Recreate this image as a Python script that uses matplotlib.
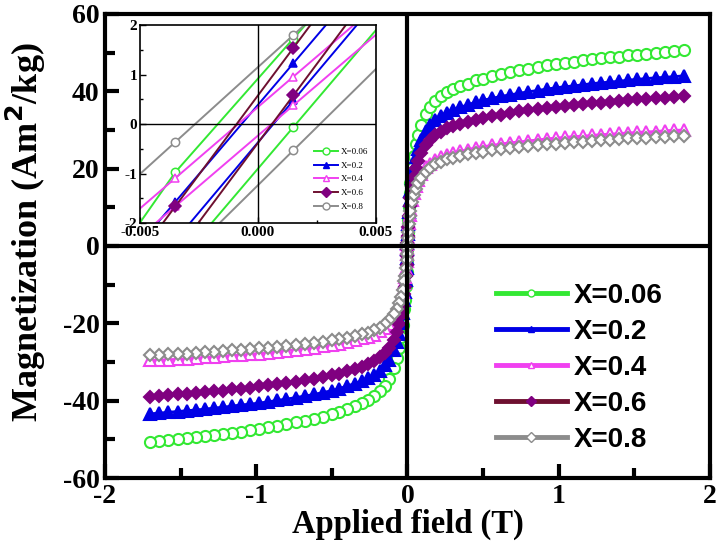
import matplotlib
matplotlib.use("Agg")
import matplotlib.pyplot as plt
from matplotlib.lines import Line2D
from matplotlib.ticker import MultipleLocator

plt.rcParams["axes.unicode_minus"] = False

# ---- data ----
labels = ["X=0.06", "X=0.2", "X=0.4", "X=0.6", "X=0.8"]

# positive field half (T)
field_pos = [0, 0.003, 0.006, 0.01, 0.015, 0.02, 0.03, 0.04, 0.055, 0.07, 0.09,
             0.12, 0.15, 0.18, 0.22, 0.26, 0.3, 0.35, 0.4, 0.45, 0.5, 0.56, 0.62,
             0.68, 0.74, 0.8, 0.86, 0.92, 0.98, 1.04, 1.1, 1.16, 1.22, 1.28, 1.34,
             1.4, 1.46, 1.52, 1.58, 1.64, 1.7, 1.76, 1.83]
# negative field half (T)
field_neg = [0, -0.003, -0.006, -0.01, -0.015, -0.02, -0.03, -0.04, -0.055, -0.07,
             -0.09, -0.12, -0.15, -0.18, -0.22, -0.26, -0.3, -0.35, -0.4, -0.45,
             -0.5, -0.56, -0.62, -0.68, -0.74, -0.8, -0.86, -0.92, -0.98, -1.04,
             -1.1, -1.16, -1.22, -1.28, -1.34, -1.4, -1.46, -1.52, -1.58, -1.64, -1.7]

m_pos_006 = [1.0, 3.5, 6.6, 10.1, 13.7, 16.2, 20.2, 23.3, 26.3, 28.8, 31.4, 34.2, 35.9,
             37.4, 38.7, 39.7, 40.5, 41.3, 42.0, 42.8, 43.3, 43.9, 44.5, 45.0, 45.4,
             45.8, 46.2, 46.7, 47.0, 47.4, 47.7, 48.0, 48.3, 48.5, 48.8, 49.0, 49.3,
             49.5, 49.7, 50.0, 50.2, 50.4, 50.6]
m_pos_02 = [0.9, 3.1, 5.7, 8.8, 11.9, 14.1, 17.6, 20.2, 22.9, 25.1, 27.3, 29.7, 31.2,
            32.6, 33.7, 34.5, 35.2, 35.9, 36.5, 37.2, 37.7, 38.2, 38.7, 39.1, 39.5,
            39.9, 40.2, 40.6, 40.9, 41.2, 41.4, 41.7, 42.0, 42.2, 42.4, 42.6, 42.9,
            43.1, 43.3, 43.5, 43.6, 43.8, 44.0]
m_pos_04 = [0.6, 2.1, 3.9, 6.0, 8.1, 9.6, 12.0, 13.8, 15.6, 17.1, 18.6, 20.3, 21.3,
            22.2, 23.0, 23.6, 24.0, 24.5, 24.9, 25.4, 25.7, 26.0, 26.4, 26.7, 26.9,
            27.2, 27.4, 27.7, 27.9, 28.1, 28.3, 28.4, 28.6, 28.8, 28.9, 29.1, 29.2,
            29.4, 29.5, 29.6, 29.8, 29.9, 30.0]
m_pos_06 = [0.8, 2.7, 5.0, 7.7, 10.4, 12.4, 15.5, 17.8, 20.1, 22.1, 24.0, 26.1, 27.5,
            28.6, 29.6, 30.4, 31.0, 31.6, 32.1, 32.7, 33.1, 33.6, 34.0, 34.4, 34.8,
            35.1, 35.4, 35.7, 36.0, 36.2, 36.5, 36.7, 36.9, 37.1, 37.3, 37.5, 37.7,
            37.9, 38.0, 38.2, 38.4, 38.5, 38.7]
m_pos_08 = [0.6, 2.0, 3.7, 5.7, 7.7, 9.1, 11.4, 13.1, 14.8, 16.2, 17.7, 19.2, 20.2,
            21.1, 21.8, 22.4, 22.8, 23.3, 23.7, 24.1, 24.4, 24.7, 25.1, 25.3, 25.6,
            25.8, 26.0, 26.3, 26.5, 26.7, 26.8, 27.0, 27.2, 27.3, 27.5, 27.6, 27.8,
            27.9, 28.0, 28.2, 28.3, 28.4, 28.5]

m_neg_006 = [-1.1, -3.6, -6.8, -10.3, -13.9, -16.4, -20.5, -23.6, -26.5, -29.0, -31.6,
             -34.4, -36.1, -37.6, -38.9, -39.9, -40.7, -41.5, -42.2, -43.0, -43.5,
             -44.1, -44.7, -45.2, -45.6, -46.0, -46.5, -46.9, -47.3, -47.7, -48.0,
             -48.3, -48.6, -48.9, -49.2, -49.4, -49.7, -49.9, -50.1, -50.4, -50.6]
m_neg_02 = [-0.9, -3.0, -5.6, -8.7, -11.8, -14.0, -17.4, -20.0, -22.7, -24.9, -27.0,
            -29.4, -30.9, -32.3, -33.4, -34.2, -34.9, -35.6, -36.2, -36.9, -37.4,
            -37.9, -38.4, -38.8, -39.2, -39.6, -39.9, -40.3, -40.6, -40.9, -41.1,
            -41.4, -41.7, -41.9, -42.2, -42.4, -42.6, -42.8, -43.0, -43.2, -43.4]
m_neg_04 = [-0.6, -2.1, -3.9, -6.0, -8.0, -9.5, -11.9, -13.7, -15.5, -17.0, -18.5,
            -20.2, -21.2, -22.1, -22.9, -23.5, -23.9, -24.4, -24.8, -25.3, -25.6,
            -25.9, -26.3, -26.6, -26.8, -27.1, -27.3, -27.6, -27.8, -28.0, -28.2,
            -28.3, -28.5, -28.7, -28.8, -29.0, -29.1, -29.3, -29.4, -29.5, -29.6]
m_neg_06 = [-0.8, -2.7, -5.0, -7.8, -10.5, -12.5, -15.6, -17.9, -20.3, -22.3, -24.2,
            -26.3, -27.7, -28.8, -29.8, -30.6, -31.2, -31.8, -32.4, -33.0, -33.4,
            -33.9, -34.3, -34.7, -35.1, -35.4, -35.7, -36.0, -36.3, -36.6, -36.9,
            -37.1, -37.4, -37.6, -37.8, -38.0, -38.2, -38.4, -38.6, -38.8, -39.0]
m_neg_08 = [-0.6, -2.0, -3.7, -5.7, -7.7, -9.1, -11.4, -13.1, -14.8, -16.2, -17.7,
            -19.2, -20.2, -21.1, -21.8, -22.4, -22.8, -23.3, -23.7, -24.1, -24.4,
            -24.7, -25.1, -25.3, -25.6, -25.8, -26.0, -26.3, -26.5, -26.7, -26.8,
            -27.0, -27.2, -27.3, -27.5, -27.6, -27.8, -27.9, -28.0, -28.2, -28.3]

# inset: low-field loop branches (T, Am2/kg)
field_inset = [-0.0085, -0.0035, 0.0015, 0.0065]
inset_down = [[-4.37, -0.97, 1.73, 4.43],   # X=0.06
              [-4.37, -1.57, 1.23, 4.03],   # X=0.2
              [-3.14, -1.09, 0.96, 3.00],   # X=0.4
              [-4.86, -1.66, 1.54, 4.74],   # X=0.6
              [-2.52, -0.36, 1.80, 3.96]]   # X=0.8
inset_up = [[-5.66, -2.86, -0.06, 2.74],
            [-5.18, -2.35, 0.48, 3.31],
            [-3.70, -1.66, 0.38, 2.42],
            [-5.82, -2.62, 0.58, 3.78],
            [-5.23, -2.88, -0.53, 1.82]]

m_pos = [m_pos_006, m_pos_02, m_pos_04, m_pos_06, m_pos_08]
m_neg = [m_neg_006, m_neg_02, m_neg_04, m_neg_06, m_neg_08]

# ---- styles ----
line_colors = ["#33e833", "#0000e6", "#f040f0", "#6e1030", "#8c8c8c"]
mark_colors = ["#33e833", "#0000e6", "#f040f0", "#800080", "#8c8c8c"]
markers = ["o", "^", "^", "D", "D"]
filled = [False, True, False, True, False]

serif = "Liberation Serif"
sans = "Liberation Sans"

fig = plt.figure(figsize=(7.17, 5.48), dpi=100)
ax = fig.add_axes([0.1464, 0.1277, 0.8438, 0.8468])

for i in range(5):
    fc = mark_colors[i] if filled[i] else "white"
    ms = 8 if markers[i] != "D" else 6.5
    for fld, mag in ((field_pos, m_pos[i]), (field_neg, m_neg[i])):
        ax.plot(fld, mag, color=mark_colors[i], lw=2, marker=markers[i],
                ms=ms, mfc=fc, mec=mark_colors[i], mew=1.5, zorder=3)

ax.axhline(0, color="black", lw=3, zorder=4)
ax.axvline(0, color="black", lw=3, zorder=4)

ax.set_xlim(-2, 2)
ax.set_ylim(-60, 60)
ax.xaxis.set_major_locator(MultipleLocator(1))
ax.xaxis.set_minor_locator(MultipleLocator(0.5))
ax.yaxis.set_major_locator(MultipleLocator(20))
ax.yaxis.set_minor_locator(MultipleLocator(10))
ax.tick_params(which="both", direction="in", top=False, right=False, width=3)
ax.tick_params(which="major", length=10, labelsize=20, pad=4)
ax.tick_params(which="minor", length=7)
for sp in ax.spines.values():
    sp.set_linewidth(3)
for lab in ax.get_xticklabels() + ax.get_yticklabels():
    lab.set_fontfamily(serif)
    lab.set_fontweight("bold")

ax.set_xlabel("Applied field (T)", fontsize=23.5, fontfamily=serif,
              fontweight="bold", labelpad=0)
ax.set_ylabel("Magnetization (Am$^{\\mathbf{2}}$/kg)", fontsize=26, fontfamily=serif,
              fontweight="bold")
ax.yaxis.set_label_coords(-0.094, 0.53)

handles = []
for i in range(5):
    fc = mark_colors[i] if filled[i] else "white"
    handles.append(Line2D([], [], color=line_colors[i], lw=3.5, marker=markers[i],
                          ms=5, mfc=fc, mec=mark_colors[i], mew=1))
ax.legend(handles, labels, loc="lower right", bbox_to_anchor=(0.963, 0.0),
          frameon=False, prop={"family": sans, "weight": "bold", "size": 20},
          handlelength=2.55, handletextpad=0.25, labelspacing=0.36)

# ---- inset ----
ins = fig.add_axes([0.1953, 0.593, 0.329, 0.361])
ins.set_facecolor("white")
for i in range(5):
    fc = mark_colors[i] if filled[i] else "white"
    mk = "o" if i == 4 else markers[i]
    for mag in (inset_down[i], inset_up[i]):
        ins.plot(field_inset, mag, color=line_colors[i] if i == 3 else mark_colors[i],
                 lw=1.4, marker=mk, ms=6, mfc=fc, mec=mark_colors[i], mew=1.1)
ins.axhline(0, color="black", lw=1)
ins.axvline(0, color="black", lw=1)
ins.set_xlim(-0.005, 0.005)
ins.set_ylim(-2, 2)
ins.xaxis.set_major_locator(MultipleLocator(0.005))
ins.xaxis.set_minor_locator(MultipleLocator(0.0025))
ins.yaxis.set_major_locator(MultipleLocator(1))
ins.yaxis.set_minor_locator(MultipleLocator(0.5))
ins.set_xticks([-0.005, 0, 0.005])
ins.set_xticklabels(["-0.005", "0.000", "0.005"])
ins.tick_params(which="both", direction="in", top=False, right=False, width=1)
ins.tick_params(which="major", length=4, labelsize=11, pad=2)
ins.tick_params(which="minor", length=2.5)
for sp in ins.spines.values():
    sp.set_linewidth(1.2)
for lab in ins.get_xticklabels() + ins.get_yticklabels():
    lab.set_fontfamily(serif)
    lab.set_fontweight("bold")

ihandles = []
for i in range(5):
    fc = mark_colors[i] if filled[i] else "white"
    mk = "o" if i == 4 else markers[i]
    ihandles.append(Line2D([], [], color=line_colors[i] if i == 3 else mark_colors[i],
                           lw=1.4, marker=mk, ms=5, mfc=fc, mec=mark_colors[i], mew=1))
ins.legend(ihandles, labels, loc="lower right", bbox_to_anchor=(1.0, 0.02),
           frameon=False, prop={"family": serif, "size": 6.5},
           handlelength=2.6, handletextpad=0.3, labelspacing=0.6)

fig.savefig("out.png", dpi=100)
